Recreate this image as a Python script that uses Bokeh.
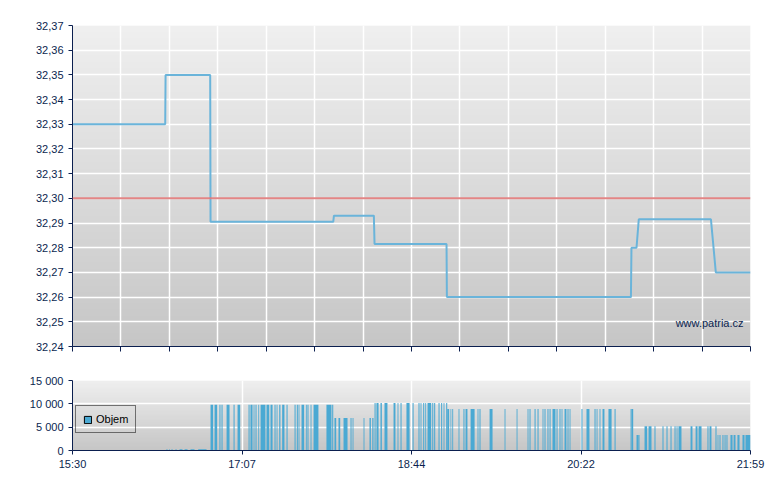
import numpy as np
from bokeh.plotting import figure
from bokeh.layouts import column
from bokeh.models import (ColumnDataSource, FixedTicker, CustomJSTickFormatter, Span,
                          Label, Legend, LegendItem, Range1d)
from bokeh.embed import file_html
from bokeh.resources import INLINE

# ---------------- data ----------------
SESSION_MINUTES = 389          # 15:30 -> 21:59
X_TICK_LABELS = ["15:30", "17:07", "18:44", "20:22", "21:59"]

# price trades: minutes since 15:30, price
PRICE_T = [0.0, 53.2, 53.4, 79.0, 79.2, 149.6, 150.0, 172.9, 173.3, 214.6, 214.8,
           320.4, 320.7, 323.6, 324.9, 366.3, 369.1, 389.0]
PRICE = [32.33, 32.33, 32.35, 32.35, 32.2905, 32.2905, 32.293, 32.293, 32.2815, 32.2815,
         32.26, 32.26, 32.28, 32.28, 32.2915, 32.2915, 32.27, 32.27]
REF_PRICE = 32.30
PRICE_MIN, PRICE_MAX = 32.24, 32.37
PRICE_TICKS = [32.24, 32.25, 32.26, 32.27, 32.28, 32.29, 32.30, 32.31, 32.32, 32.33,
               32.34, 32.35, 32.36, 32.37]

# volume bars: from / to (minutes since 15:30), volume
VOL_FROM = [53.9, 55.5, 56.8, 59.1, 61.4, 64.3, 67.7, 72.1,
            79.2, 81.5, 84.3, 85.5, 88.4, 92.4, 94.7, 101.0, 102.1, 103.9, 105.0, 106.6,
            107.9, 111.3, 113.6, 115.9, 117.1, 118.6, 120.3, 122.8, 127.4, 128.7, 129.7,
            131.4, 133.9, 134.8, 136.6, 138.3, 145.7, 149.0,
            150.3, 152.6, 155.5, 159.5, 160.7, 167.0, 170.4, 172.0,
            173.3, 174.4, 176.7, 179.0, 184.2, 186.5, 188.2, 191.6, 195.1, 198.5, 199.7,
            201.2, 202.4, 203.7, 206.4, 207.5, 210.0, 211.5, 212.9, 214.4,
            215.0, 216.9, 217.9, 221.5, 224.3, 225.5, 228.4, 232.4, 233.5, 239.3, 247.9,
            254.8, 261.1, 262.2, 265.1, 266.8, 269.7, 270.8, 272.5, 273.7, 275.4, 277.7,
            279.4, 280.6, 282.3, 284.0, 285.2, 292.0, 294.9, 299.5, 300.7, 302.4, 304.1,
            307.5, 311.0, 320.2,
            320.7, 323.6,
            324.7, 328.2, 330.5, 333.9, 338.5, 340.8, 343.1, 345.4, 346.6, 347.7, 354.6,
            357.5, 359.2, 364.3, 365.5,
            368.9, 370.1, 371.2, 372.9, 374.1, 375.2, 377.5, 379.3, 381.5, 384.4, 386.1]
VOL_TO = [54.5, 55.9, 57.4, 59.7, 63.1, 66.0, 70.0, 76.9,
          80.7, 83.0, 84.9, 86.1, 90.1, 93.0, 96.2, 101.6, 103.3, 104.4, 105.6, 107.1,
          110.7, 112.9, 114.8, 116.5, 117.6, 119.3, 121.6, 123.4, 128.0, 129.3, 130.2,
          132.9, 134.4, 135.4, 137.1, 141.1, 148.6, 149.6,
          151.3, 153.6, 157.8, 160.1, 161.2, 167.5, 171.2, 172.7,
          173.9, 175.6, 177.5, 180.7, 185.3, 187.0, 188.8, 193.4, 195.7, 199.1, 200.2,
          201.8, 202.9, 205.8, 207.0, 208.1, 210.6, 212.1, 213.4, 215.0,
          216.1, 217.3, 218.4, 222.0, 224.9, 226.6, 230.7, 232.9, 234.1, 241.0, 248.4,
          255.3, 261.6, 262.8, 265.7, 267.4, 270.2, 271.4, 273.1, 274.3, 277.1, 278.3,
          280.0, 281.1, 283.4, 284.6, 285.7, 292.6, 296.6, 300.1, 301.2, 302.9, 305.2,
          309.3, 311.6, 320.7,
          321.7, 324.7,
          325.3, 329.7, 332.2, 334.5, 339.1, 341.4, 343.7, 346.0, 347.1, 349.4, 355.7,
          358.6, 360.9, 364.9, 366.6,
          369.5, 370.6, 371.8, 373.5, 374.7, 375.8, 378.7, 380.4, 382.7, 385.6, 389.0]
VOL = ([250] * 8 + [9800] * 30 + [6950] * 8 + [10200] * 20 + [8900] * 37 +
       [3330] * 2 + [5200] * 15 + [3330] * 11)
VOL_MAX = 15000
VOL_TICKS = [0, 5000, 10000, 15000]

# ---------------- style ----------------
NAVY = "#0b1f4f"
FONT = "Liberation Sans"
BAR_BLUE = "#4aa9d3"
FRAME_W = 678


def gradient(top_hex, bottom_hex, n=96):
    t = np.linspace(0.0, 1.0, n)
    top = np.array([int(top_hex[i:i + 2], 16) for i in (1, 3, 5)], dtype=float)
    bot = np.array([int(bottom_hex[i:i + 2], 16) for i in (1, 3, 5)], dtype=float)
    img = np.empty((n, 1), dtype=np.uint32)
    view = img.view(dtype=np.uint8).reshape((n, 1, 4))
    for c in range(3):
        view[:, 0, c] = np.round(bot[c] + (top[c] - bot[c]) * t).astype(np.uint8)
    view[:, 0, 3] = 255
    return img


def style_axes(p):
    for ax in p.axis:
        ax.axis_line_color = NAVY
        ax.axis_line_width = 1
        ax.major_tick_line_color = NAVY
        ax.major_tick_in = 0
        ax.major_tick_out = 4
        ax.minor_tick_line_color = None
        ax.major_label_text_color = NAVY
        ax.major_label_text_font = FONT
        ax.major_label_text_font_size = "11px"
    p.outline_line_color = None
    p.background_fill_color = "white"
    p.border_fill_color = "white"


# ---------------- price panel ----------------
p1 = figure(frame_width=FRAME_W, frame_height=321, output_backend="svg", toolbar_location=None,
            x_range=Range1d(0, SESSION_MINUTES), y_range=Range1d(PRICE_MIN, PRICE_MAX),
            min_border_left=72, min_border_right=18, min_border_top=25, min_border_bottom=12)
p1.image_rgba(image=[gradient("#efefef", "#c6c6c6")], x=0, y=PRICE_MIN,
              dw=SESSION_MINUTES, dh=PRICE_MAX - PRICE_MIN, level="image")
top_ticks = [SESSION_MINUTES * k / 14 for k in range(15)]
style_axes(p1)
p1.xaxis.ticker = FixedTicker(ticks=top_ticks)
p1.xaxis.formatter = CustomJSTickFormatter(code="return '';")
p1.xaxis.major_label_standoff = 0
p1.xaxis.major_tick_out = 5
p1.yaxis.ticker = FixedTicker(ticks=PRICE_TICKS)
p1.yaxis.formatter = CustomJSTickFormatter(code="return tick.toFixed(2).replace('.', ',');")
p1.xgrid.ticker = FixedTicker(ticks=top_ticks[1:-1])
p1.ygrid.ticker = FixedTicker(ticks=PRICE_TICKS[1:-1])
for g in (p1.xgrid, p1.ygrid):
    g.grid_line_color = "white"
    g.grid_line_width = 1.5
p1.add_layout(Span(location=REF_PRICE, dimension="width", line_color="#e07878",
                   line_width=2, line_alpha=0.9))
p1.line(PRICE_T, PRICE, line_color="#6ab4da", line_width=2)
p1.add_layout(Label(x=385, y=32.2497, text="www.patria.cz", text_align="right",
                    text_baseline="middle", text_color=NAVY, text_font=FONT,
                    text_font_size="11px"))

# ---------------- volume panel ----------------
p2 = figure(frame_width=FRAME_W, frame_height=70, output_backend="svg", toolbar_location=None,
            x_range=Range1d(0, SESSION_MINUTES), y_range=Range1d(0, VOL_MAX),
            min_border_left=72, min_border_right=18, min_border_top=22, min_border_bottom=28)
p2.image_rgba(image=[gradient("#efefef", "#c6c6c6")], x=0, y=0,
              dw=SESSION_MINUTES, dh=VOL_MAX, level="image")
bottom_ticks = [SESSION_MINUTES * k / 4 for k in range(5)]
style_axes(p2)
p2.xaxis.ticker = FixedTicker(ticks=bottom_ticks)
p2.xaxis.formatter = CustomJSTickFormatter(args=dict(labels=X_TICK_LABELS),
                                           code="return labels[index];")
p2.xaxis.major_label_standoff = 3
p2.yaxis.ticker = FixedTicker(ticks=VOL_TICKS)
p2.yaxis.formatter = CustomJSTickFormatter(
    code="return Math.round(tick).toString().replace(/\\B(?=(\\d{3})+(?!\\d))/g, ' ');")
p2.xgrid.ticker = FixedTicker(ticks=bottom_ticks[1:-1])
p2.ygrid.ticker = FixedTicker(ticks=VOL_TICKS[1:])
for g in (p2.xgrid, p2.ygrid):
    g.grid_line_color = "white"
    g.grid_line_width = 1.5
src = ColumnDataSource(dict(left=VOL_FROM, right=VOL_TO, top=VOL, bottom=[0] * len(VOL)))
p2.quad(left="left", right="right", top="top", bottom="bottom", source=src,
        fill_color=BAR_BLUE, line_color=None)
# legend-only renderer (no visible marks)
nan = float("nan")
dummy = p2.quad(left=[nan], right=[nan], top=[nan], bottom=[nan],
                fill_color=BAR_BLUE, line_color="black", line_width=1)
legend = Legend(items=[LegendItem(label="Objem", renderers=[dummy])], location=(3, 17),
                orientation="vertical", glyph_width=9, glyph_height=9, label_standoff=4,
                padding=7, margin=0, border_line_color="black", border_line_width=1,
                background_fill_alpha=0, label_text_font=FONT, label_text_font_size="11px",
                label_text_color="black")
p2.add_layout(legend)

layout = column(p1, p2, spacing=0)
open("out.html", "w").write(file_html(layout, INLINE))
